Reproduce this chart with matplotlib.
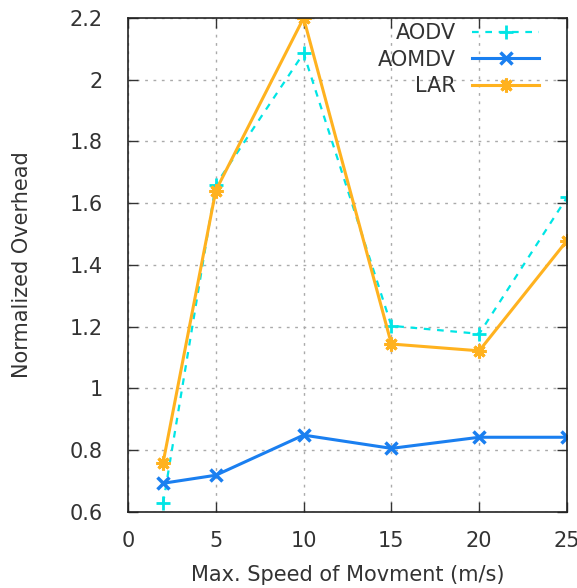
import matplotlib
matplotlib.use("Agg")
from matplotlib import pyplot as plt

# data
speeds = [2, 5, 10, 15, 20, 25]
aodv = [0.628, 1.66, 2.086, 1.203, 1.177, 1.619]
aomdv = [0.693, 0.719, 0.849, 0.806, 0.842, 0.842]
lar = [0.76, 1.641, 2.2, 1.144, 1.122, 1.479]

x_ticks = [0, 5, 10, 15, 20, 25]
y_ticks = [0.6, 0.8, 1, 1.2, 1.4, 1.6, 1.8, 2, 2.2]
y_labels = ["0.6", "0.8", "1", "1.2", "1.4", "1.6", "1.8", "2", "2.2"]

plt.rcParams['font.family'] = ['DejaVu Sans']
fig = plt.figure(figsize=(5.77, 5.88), dpi=100)
ax = fig.add_axes([0.2218, 0.1293, 0.7609, 0.8401])

ax.plot(speeds, aodv, color='#00e5e5', linestyle=(0, (3, 3)), linewidth=1.6,
        marker='+', markersize=10, markeredgewidth=2, label='AODV')
ax.plot(speeds, aomdv, color='#1a7ff0', linewidth=2.2,
        marker='x', markersize=8, markeredgewidth=2.5, label='AOMDV')
ax.plot(speeds, lar, color='#ffb21f', linewidth=2.2,
        marker=(8, 2, 0), markersize=10, markeredgewidth=2.2, label='LAR')

ax.set_xlim(0, 25)
ax.set_ylim(0.6, 2.2)
ax.set_xticks(x_ticks)
ax.set_yticks(y_ticks)
ax.set_yticklabels(y_labels)
ax.tick_params(direction='in', length=7, width=1, top=True, right=True,
               labelsize=15, colors='#333333')
ax.tick_params(axis='y', pad=18)
ax.tick_params(axis='x', pad=14)
ax.grid(True, linestyle=(0, (2, 4)), color='#aaaaaa', linewidth=1)

for s in ax.spines.values():
    s.set_linewidth(1.2)
    s.set_color('#222222')

ax.set_xlabel("Max. Speed of Movment (m/s)", fontsize=15, color='#333333', labelpad=10)
ax.set_ylabel("Normalized Overhead", fontsize=15, color='#333333', labelpad=27)

ax.legend(loc='upper right', bbox_to_anchor=(0.955, 1.006), frameon=False,
          markerfirst=False, fontsize=15, handlelength=3.2, labelspacing=0.3,
          borderaxespad=0, handletextpad=0.8, labelcolor='#333333')

fig.savefig("out.png", dpi=100)
